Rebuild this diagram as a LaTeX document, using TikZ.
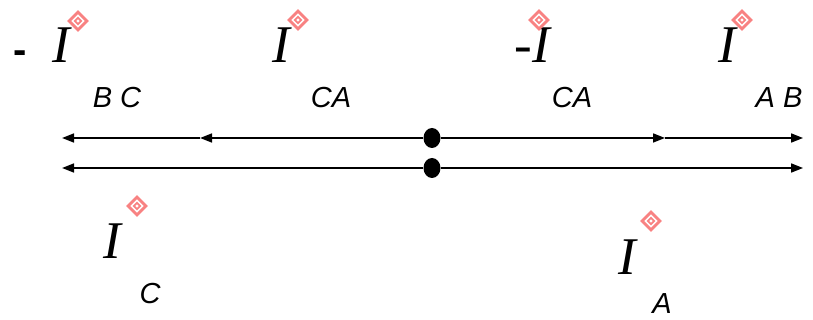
\documentclass[tikz,border=0pt]{standalone}
\usepackage{fontspec}
\setmainfont{Liberation Serif}
\setsansfont{Liberation Sans}
\usetikzlibrary{arrows.meta,shapes.geometric}
\definecolor{marker}{RGB}{248,130,130}

\begin{document}
\begin{tikzpicture}[x=1pt,y=-1pt,
  cur/.style={inner sep=0pt,font=\fontsize{53}{53}\selectfont\itshape},
  sub/.style={inner sep=0pt,font=\fontsize{29}{29}\selectfont\sffamily\itshape},
  neg/.style={inner sep=0pt,font=\fontsize{40}{40}\selectfont\sffamily\bfseries},
  dia/.style={diamond,draw=marker,line width=2.8pt,inner sep=0pt,minimum size=19pt},
  diain/.style={diamond,draw=marker,line width=1.8pt,inner sep=0pt,minimum size=7pt},
  dot/.style={ellipse,fill=black,inner sep=0pt,minimum width=17pt,minimum height=20pt},
  ar/.style={-{Triangle[length=12pt,width=9pt]},line width=1.7pt}]
\useasboundingbox (0,0) rectangle (813,320);
% upper row: phasors of the line currents
\node[neg] (nbc) at (20,57) {-};
\node[cur] (ibc) at (61,45) {I};
\node[sub] (sbc) at (117,98) {B C};
\node[cur] (ica) at (281,45) {I};
\node[sub] (sca) at (331,98) {CA};
\node[cur] (nca) at (532,45) {-I};
\node[sub] (snca) at (572,98) {CA};
\node[cur] (iab) at (727,45) {I};
\node[sub] (sab) at (779,98) {A B};
% lower row
\node[cur] (ic) at (112,241) {I};
\node[sub] (sc) at (150,294) {C};
\node[cur] (ia) at (627,257) {I};
\node[sub] (sa) at (662,304) {A};
% phasor markers
\foreach \n/\x/\y in {mbc/78/21,mca/298/20,mnca/539/20,mab/742/20,mc/137/206,ma/651/221} {
  \node[dia] (\n) at (\x,\y) {};
  \node[diain] at (\n) {};
}
% axes
\node[dot] (o1) at (432,138) {};
\node[dot] (o2) at (432,168) {};
\coordinate (l1) at (62,138);
\coordinate (m1) at (200,138);
\coordinate (r1) at (665,138);
\coordinate (e1) at (803,138);
\coordinate (l2) at (62,168);
\coordinate (e2) at (803,168);
\draw[ar] (o1) -- (m1);
\draw[ar] (m1) -- (l1);
\draw[ar] (o1) -- (r1);
\draw[ar] (r1) -- (e1);
\draw[ar] (o2) -- (l2);
\draw[ar] (o2) -- (e2);
\end{tikzpicture}
\end{document}
